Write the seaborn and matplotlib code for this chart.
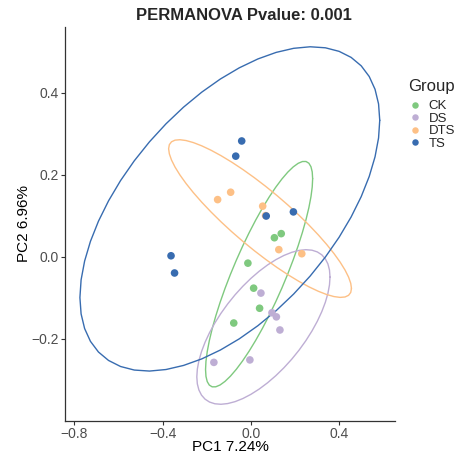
import numpy as np
import pandas as pd
import matplotlib
matplotlib.use("Agg")
import matplotlib.pyplot as plt
import seaborn as sns

# ---- data ----
groups = ["CK", "DS", "DTS", "TS"]
ck_pc1 = [0.106, 0.137, -0.014, 0.012, 0.039, -0.078]
ck_pc2 = [0.046, 0.056, -0.016, -0.077, -0.126, -0.162]
ds_pc1 = [0.045, 0.095, 0.115, 0.131, -0.168, -0.005]
ds_pc2 = [-0.089, -0.137, -0.147, -0.179, -0.258, -0.252]
dts_pc1 = [-0.151, -0.092, 0.053, 0.126, 0.230, 0.066]
dts_pc2 = [0.139, 0.157, 0.123, 0.017, 0.007, 0.100]
ts_pc1 = [-0.042, -0.069, 0.069, 0.192, -0.362, -0.346]
ts_pc2 = [0.282, 0.245, 0.099, 0.109, 0.002, -0.040]
colors = ["#7FC97F", "#BEAED4", "#FDC086", "#386CB0"]
title = "PERMANOVA Pvalue: 0.001"
legend_title = "Group"
xlabel = "PC1 7.24%"
ylabel = "PC2 6.96%"
xticks = [-0.8, -0.4, 0.0, 0.4]
yticks = [-0.2, 0.0, 0.2, 0.4]
# 95% F quantiles qf(0.95, 2, dfd), dfd = n - 1
qf95 = {4: 6.944272, 5: 5.786135}

pc1 = {"CK": ck_pc1, "DS": ds_pc1, "DTS": dts_pc1, "TS": ts_pc1}
pc2 = {"CK": ck_pc2, "DS": ds_pc2, "DTS": dts_pc2, "TS": ts_pc2}
df = pd.concat([pd.DataFrame({"PC1": pc1[g], "PC2": pc2[g], "Group": g}) for g in groups],
               ignore_index=True)


def cov_trob(x, nu=5, maxit=25, tol=0.01):
    n, p = x.shape
    loc = x.mean(axis=0)
    w = np.ones(n)
    X = x - loc
    for _ in range(maxit):
        w0 = w
        X = x - loc
        A = np.sqrt(w / w.sum())[:, None] * X
        _, d, vt = np.linalg.svd(A, full_matrices=False)
        wX = X @ vt.T @ np.diag(1.0 / d)
        Q = (wX ** 2).sum(axis=1)
        w = (nu + p) / (nu + Q)
        loc = (w[:, None] * x).sum(axis=0) / w.sum()
        if np.all(np.abs(w - w0) < tol):
            break
    cov = (np.sqrt(w)[:, None] * X).T @ (np.sqrt(w)[:, None] * X) / n
    return loc, cov


def t_ellipse(x, level_q, segments=51):
    loc, cov = cov_trob(x)
    chol = np.linalg.cholesky(cov).T  # upper triangular as in R chol()
    radius = np.sqrt(2 * level_q)
    ang = np.linspace(0, 2 * np.pi, segments)
    unit = np.column_stack([np.cos(ang), np.sin(ang)])
    return loc + radius * unit @ chol


sns.set_theme(style="white")
plt.rcParams["font.family"] = ["Liberation Sans", "DejaVu Sans"]

fig = plt.figure(figsize=(4.56, 4.55), dpi=100)
ax = fig.add_axes([65 / 456, 34 / 455, 330 / 456, 394 / 455])

for g, c in zip(groups, colors):
    pts = np.column_stack([pc1[g], pc2[g]])
    e = t_ellipse(pts, qf95[len(pts) - 1])
    ax.plot(e[:, 0], e[:, 1], color=c, lw=1.0, zorder=1)

sns.scatterplot(data=df, x="PC1", y="PC2", hue="Group", hue_order=groups,
                palette=colors, s=30, linewidth=0, ax=ax, zorder=3)

ax.set_xlim(-0.842, 0.652)
ax.set_ylim(-0.401, 0.560)
ax.set_xticks(xticks)
ax.set_yticks(yticks)
ax.set_xticklabels([f"{t:.1f}".replace("-", "\u2212") for t in xticks])
ax.set_yticklabels([f"{t:.1f}".replace("-", "\u2212") for t in yticks])
for s in ["top", "right"]:
    ax.spines[s].set_visible(False)
for s in ["left", "bottom"]:
    ax.spines[s].set_color("#333333")
    ax.spines[s].set_linewidth(0.9)
ax.tick_params(axis="both", which="both", length=3, width=0.8, color="#333333",
               labelsize=10, labelcolor="#4D4D4D", pad=1.5, bottom=True, left=True)
ax.set_xlabel(xlabel, fontsize=11, color="black")
ax.xaxis.label.set_va("center")
ax.xaxis.set_label_coords(0.5, -0.066)
ax.set_ylabel(ylabel, fontsize=11, color="black")
ax.yaxis.label.set_va("center")
ax.yaxis.set_label_coords(-0.124, 0.5)
fig.text(244 / 456, 1 - 16 / 455, title, ha="center", va="center",
         fontsize=12, fontweight="bold")

fig.text(408 / 456, 1 - 87 / 455, legend_title, ha="left", va="center", fontsize=12)
leg = ax.legend(loc="upper left", bbox_to_anchor=(408 / 456, 1 - 100 / 455),
                bbox_transform=fig.transFigure, frameon=False, fontsize=9.5,
                handlelength=1.0, handletextpad=0.55,
                labelspacing=0.02, borderaxespad=0, borderpad=0, markerscale=0.85)

fig.savefig("out.png", dpi=100)
